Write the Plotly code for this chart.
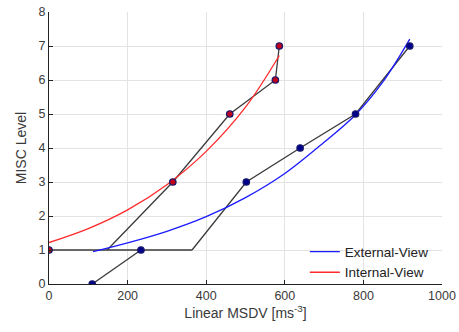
import plotly.graph_objects as go

# Data points
int_x = [0, 315, 460, 576, 586]
int_y = [1, 3, 5, 6, 7]
ext_x = [110, 234, 502, 639, 780, 918]
ext_y = [0, 1, 3, 4, 5, 7]

# Black connecting lines
base_x = [0, 364]
base_y = [1, 1]
ext_low_x = [110, 234]
ext_low_y = [0, 1]
int_rise_x = [148, 315, 460, 576, 586]
int_rise_y = [1, 3, 5, 6, 7]
ext_rise_x = [364, 502, 639, 780, 918]
ext_rise_y = [1, 3, 4, 5, 7]

# Fitted curves
ext_fit_x = [112, 200, 300, 400, 500, 600, 700, 780, 850, 918]
ext_fit_y = [0.95, 1.21, 1.55, 1.98, 2.54, 3.25, 4.17, 4.98, 5.95, 7.2]
int_fit_x = [0, 100, 200, 300, 400, 500, 586]
int_fit_y = [1.22, 1.63, 2.18, 2.92, 3.90, 5.2, 6.72]

x_ticks = [0, 200, 400, 600, 800, 1000]
y_ticks = [0, 1, 2, 3, 4, 5, 6, 7, 8]

fig = go.Figure()
line_style = dict(color="#3a3a3a", width=1.3)
for xs, ys in [(base_x, base_y), (ext_low_x, ext_low_y), (int_rise_x, int_rise_y), (ext_rise_x, ext_rise_y)]:
    fig.add_trace(go.Scatter(x=xs, y=ys, mode="lines", line=line_style, showlegend=False, hoverinfo="skip"))

fig.add_trace(go.Scatter(x=ext_fit_x, y=ext_fit_y, mode="lines", line=dict(color="#1a1aff", width=1.3, shape="spline"), name="External-View"))
fig.add_trace(go.Scatter(x=int_fit_x, y=int_fit_y, mode="lines", line=dict(color="#ff2a2a", width=1.3, shape="spline"), name="Internal-View"))

fig.add_trace(go.Scatter(x=int_x, y=int_y, mode="markers", showlegend=False,
                         marker=dict(size=6.5, color="#c0001a", line=dict(color="#1a1a6e", width=1.2))))
fig.add_trace(go.Scatter(x=ext_x, y=ext_y, mode="markers", showlegend=False,
                         marker=dict(size=6.5, color="#00008b", line=dict(color="#1a1a6e", width=1.2))))

font = dict(family="Liberation Sans, Arial, sans-serif", size=12.5, color="#3a3a3a")
fig.update_layout(
    width=459, height=332,
    margin=dict(l=49, r=17, t=12, b=48),
    plot_bgcolor="white", paper_bgcolor="white",
    font=font,
    legend=dict(x=0.651, y=0.175, xanchor="left", yanchor="top", bgcolor="rgba(0,0,0,0)",
                font=dict(size=13.5, color="#222222"), tracegroupgap=0, itemwidth=30),
)
fig.update_xaxes(range=[0, 1000], tickvals=x_ticks, showgrid=True, gridcolor="#e3e3e3", gridwidth=1,
                 showline=True, linecolor="#222222", linewidth=1, ticks="inside", ticklen=4, tickcolor="#222222",
                 zeroline=False, automargin=False,
                 title=dict(text="Linear MSDV [ms<sup>-3</sup>]", font=dict(size=14), standoff=6))
fig.update_yaxes(range=[0, 8], tickvals=y_ticks, showgrid=True, gridcolor="#e3e3e3", gridwidth=1,
                 showline=True, linecolor="#222222", linewidth=1, ticks="inside", ticklen=4, tickcolor="#222222",
                 zeroline=False, automargin=False,
                 title=dict(text="MISC Level", font=dict(size=14), standoff=8))

fig.write_html("out.html")
